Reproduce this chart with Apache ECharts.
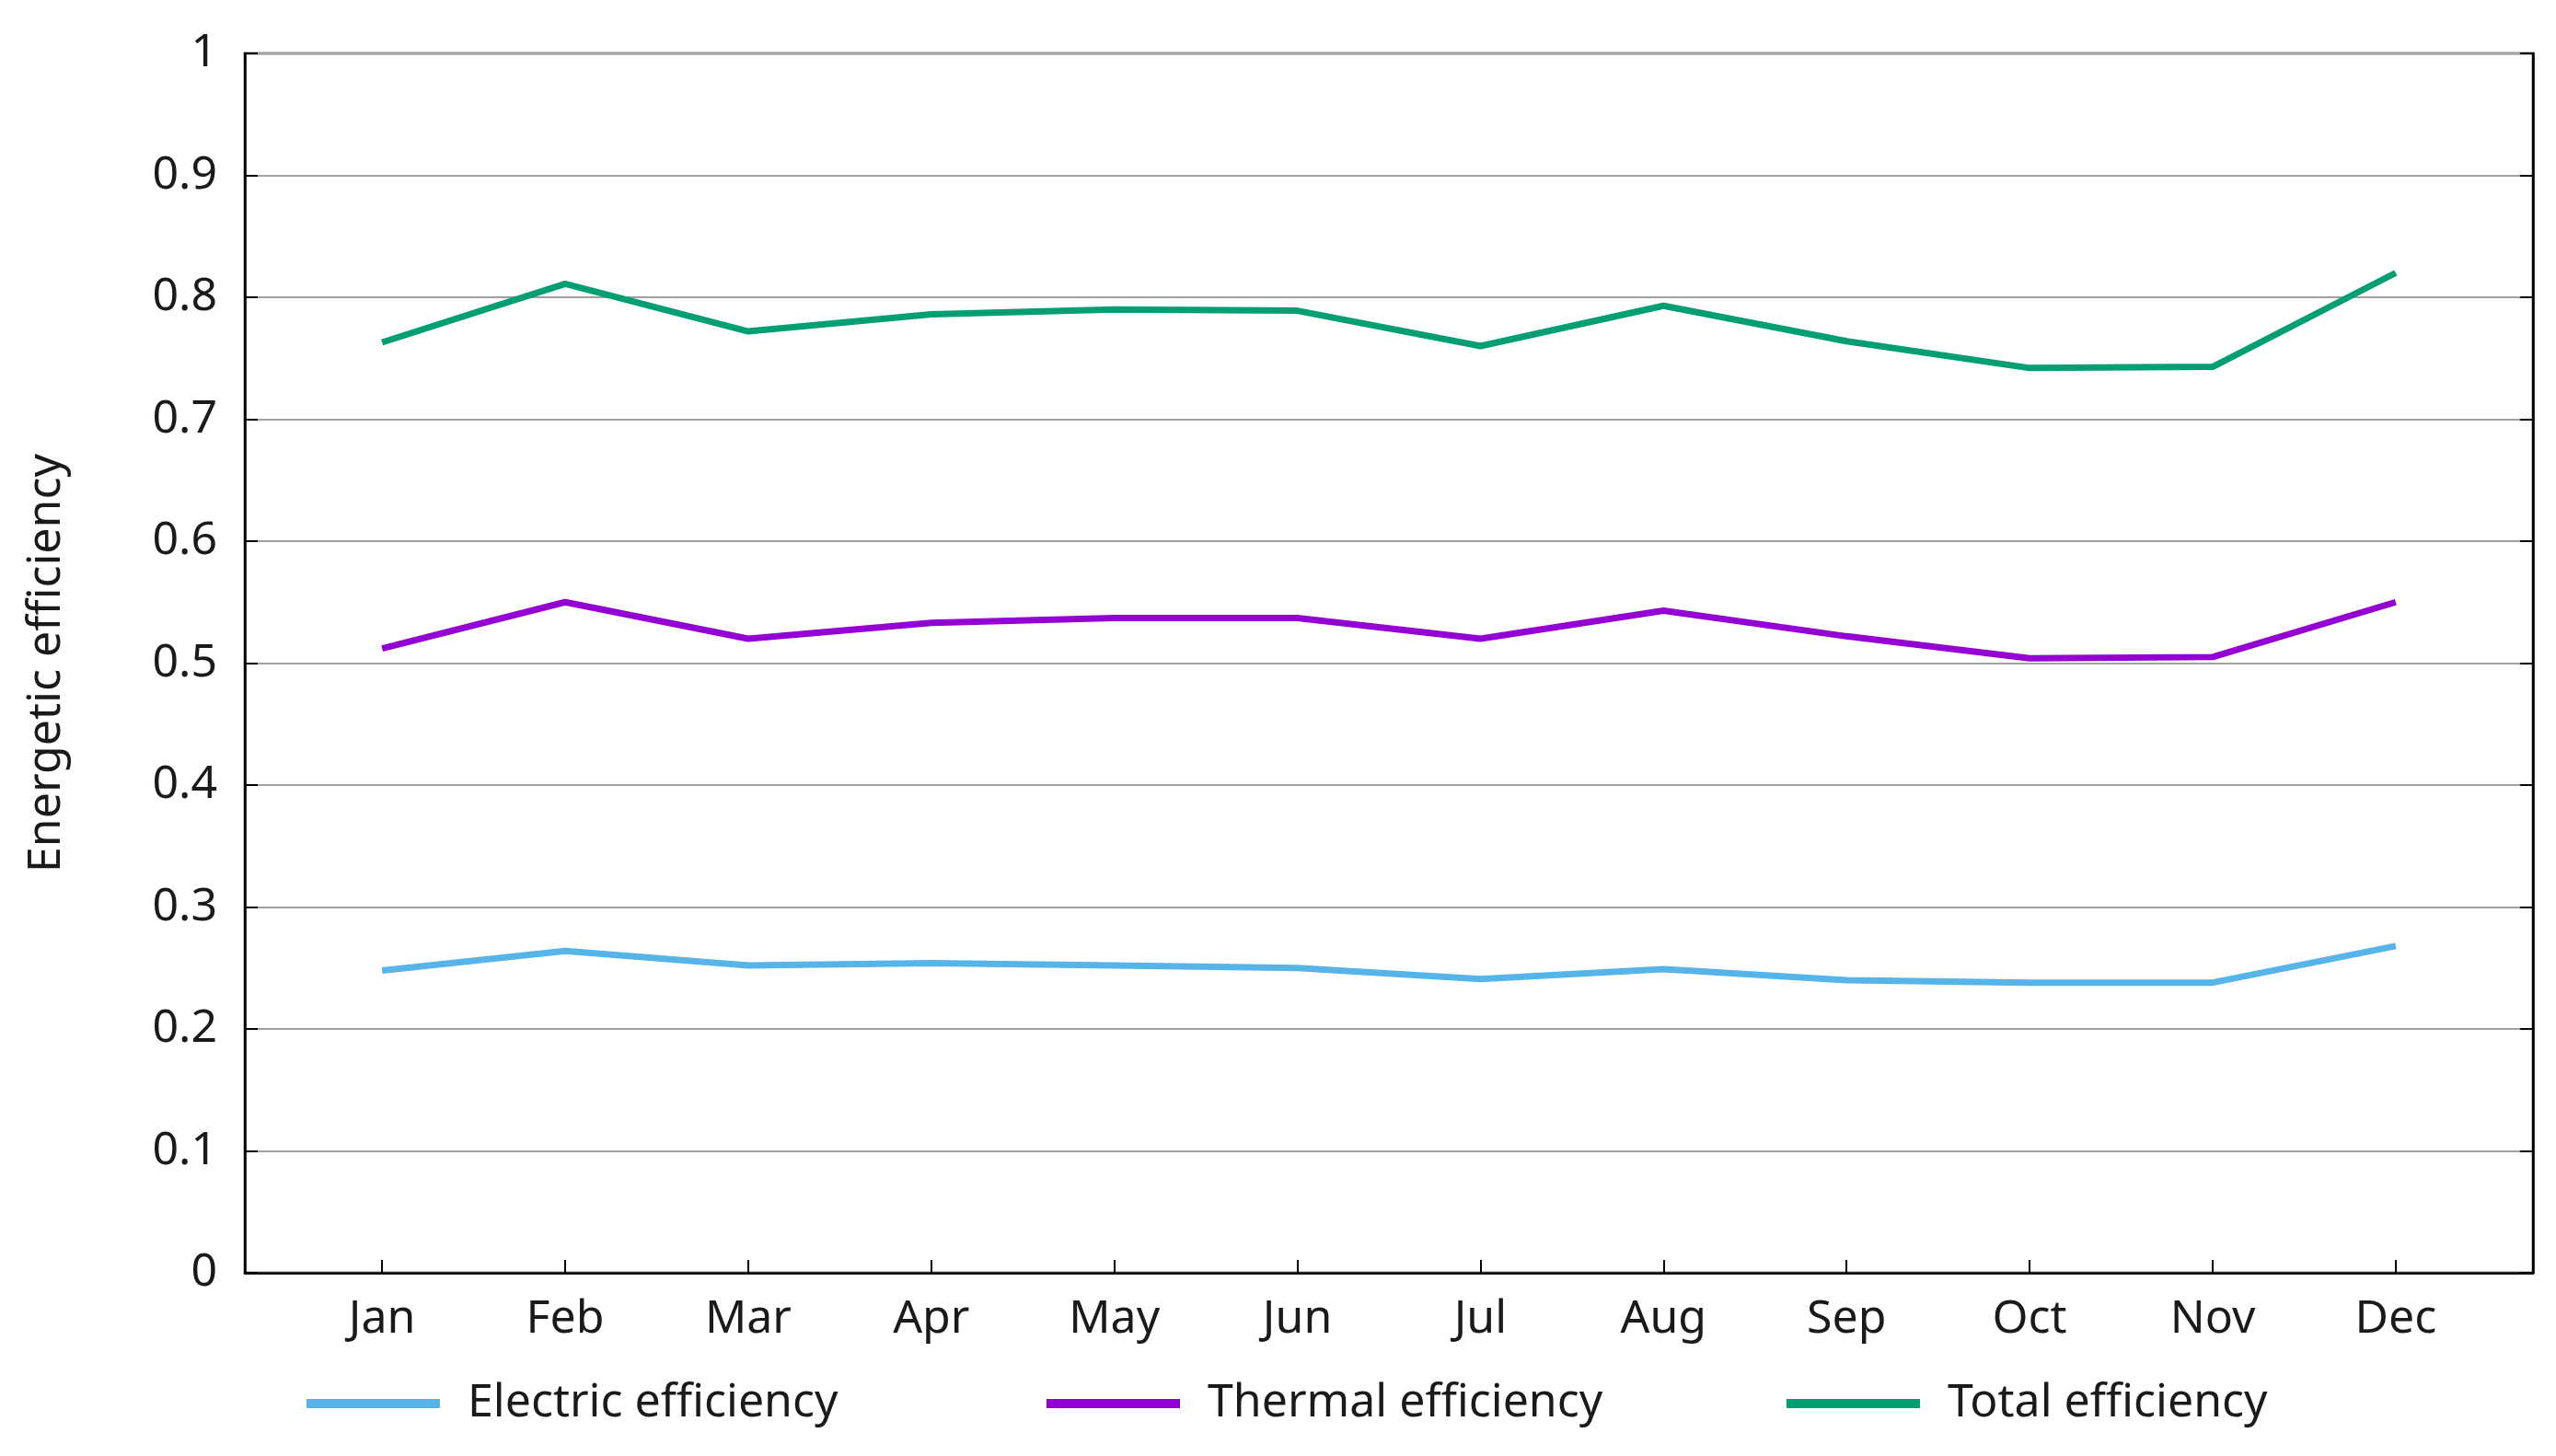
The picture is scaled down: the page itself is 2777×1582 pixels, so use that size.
<!DOCTYPE html>
<html><head><meta charset="utf-8">
<script src="https://cdn.jsdelivr.net/npm/echarts@6/dist/echarts.min.js"></script>
<style>html,body{margin:0;padding:0;background:#fff}#c{width:2777px;height:1582px}</style>
</head><body><div id="c"></div>
<script>
const months = ['Jan','Feb','Mar','Apr','May','Jun','Jul','Aug','Sep','Oct','Nov','Dec'];
const electric = [0.248, 0.264, 0.252, 0.254, 0.252, 0.250, 0.241, 0.249, 0.240, 0.238, 0.238, 0.268];
const thermal  = [0.512, 0.550, 0.520, 0.533, 0.537, 0.537, 0.520, 0.543, 0.522, 0.504, 0.505, 0.550];
const total    = [0.763, 0.811, 0.772, 0.786, 0.790, 0.789, 0.760, 0.793, 0.764, 0.742, 0.743, 0.820];
const seriesNames = ['Electric efficiency','Thermal efficiency','Total efficiency'];
const colors = ['#56b4e9','#9400d3','#009e73'];
const monthIdx = months.map((m,i)=>i);

const FONT = '"Noto Sans", "Open Sans", sans-serif';
const TXT = '#1a1a1a';
const chart = echarts.init(document.getElementById('c'), null, {renderer:'canvas'});
const legendLefts = [333, 1137, 1941];
const dataSets = [electric, thermal, total];

chart.setOption({
  animation: false,
  backgroundColor: '#fff',
  textStyle: {fontFamily: FONT},
  grid: {left: 266, right: 25, top: 58, bottom: 199, containLabel: false,
         show: true, borderColor: '#000', borderWidth: 2.5, backgroundColor: 'transparent'},
  xAxis: {
    type: 'value', min: -0.75, max: 11.75,
    axisLine: {show: true, onZero: false, lineStyle: {color: '#000', width: 2.5}},
    axisTick: {show: true, inside: true, length: 14, lineStyle: {color: '#000', width: 2}, customValues: monthIdx},
    axisLabel: {show: true, customValues: monthIdx, formatter: v => months[Math.round(v)],
                fontSize: 50, color: TXT, fontFamily: FONT, margin: 26},
    splitLine: {show: false}
  },
  yAxis: [{
    type: 'value', min: 0, max: 1, interval: 0.1, position: 'left',
    name: 'Energetic efficiency', nameLocation: 'middle', nameGap: 190,
    nameTextStyle: {fontSize: 50, color: TXT, fontFamily: FONT},
    axisLine: {show: true, onZero: false, lineStyle: {color: '#000', width: 2.5}},
    axisTick: {show: true, inside: true, length: 14, lineStyle: {color: '#000', width: 2}},
    axisLabel: {fontSize: 50, color: TXT, fontFamily: FONT, margin: 30},
    splitLine: {show: true, lineStyle: {color: '#a0a0a0', width: 2}}
  },{
    type: 'value', min: 0, max: 1, interval: 0.1, position: 'right',
    axisLine: {show: true, onZero: false, lineStyle: {color: '#000', width: 2.5}},
    axisTick: {show: true, inside: true, length: 14, lineStyle: {color: '#000', width: 2}},
    axisLabel: {show: false},
    splitLine: {show: false}
  }],
  legend: seriesNames.map((n,i)=>({
    data: [{name: n, icon: 'rect'}],
    left: legendLefts[i], top: 1500, padding: 0,
    itemWidth: 145, itemHeight: 10,
    textStyle: {fontSize: 50, color: TXT, fontFamily: FONT, padding: [0,0,0,25]}
  })),
  series: seriesNames.map((n,i)=>({
    name: n, type: 'line', yAxisIndex: 0,
    data: monthIdx.map(k => [k, dataSets[i][k]]),
    symbol: 'none', color: colors[i],
    lineStyle: {width: 7, color: colors[i]}
  }))
});
</script></body></html>
